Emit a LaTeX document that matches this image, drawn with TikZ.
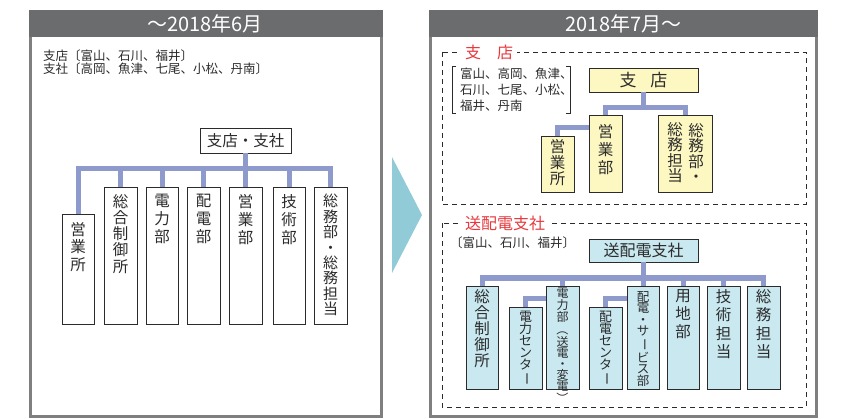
\documentclass[tikz,border=0pt]{standalone}
\usepackage{fontspec}
\setmainfont{Noto Sans CJK JP}
\definecolor{hdrgray}{HTML}{6B6C6E}
\definecolor{bordgray}{HTML}{7F7F7F}
\definecolor{conncol}{HTML}{8E9ACC}
\definecolor{yelfill}{HTML}{FDF7C2}
\definecolor{bluefill}{HTML}{C9E8F0}
\definecolor{arrowcol}{HTML}{92CBD8}
\definecolor{redtxt}{HTML}{E8383D}
\definecolor{inkcol}{HTML}{2B2B2B}
\newcommand{\vbar}{\rotatebox[origin=c]{-90}{ー}}
\newcommand{\vlp}{\rotatebox[origin=c]{-90}{（}}
\newcommand{\vrp}{\rotatebox[origin=c]{-90}{）}}
\tikzset{
  orgbox/.style={draw=inkcol, line width=0.8pt, inner sep=0pt, outer sep=0pt, anchor=north west},
  vt/.style={inner sep=0pt, align=center, text=inkcol, anchor=north},
  conn/.style={draw=conncol, line width=5pt, line join=miter},
  hdrtxt/.style={text=white, font=\fontsize{20}{20}\selectfont, inner sep=0pt},
  redlbl/.style={text=redtxt, fill=white, font=\fontsize{16}{16}\selectfont, inner xsep=4pt, inner ysep=1pt},
  dashbox/.style={draw=inkcol, line width=0.9pt, dash pattern=on 5pt off 4pt},
  plaintxt/.style={text=inkcol, inner sep=0pt, align=left}
}
\begin{document}
\begin{tikzpicture}[x=1pt,y=-1pt]
\useasboundingbox (0,0) rectangle (850,419);
% panels
\draw[bordgray, line width=3pt, fill=white] (30.5,11.5) rectangle (381.5,416.5);
\fill[hdrgray] (29,10) rectangle (383,37);
\draw[bordgray, line width=3pt, fill=white] (430.5,11.5) rectangle (816.5,416.5);
\fill[hdrgray] (429,10) rectangle (818,37);
\node[hdrtxt] (h1) at (205,23.5) {〜2018年6月};
\node[hdrtxt] (h2) at (623.5,23.5) {2018年7月〜};
% arrow
\fill[arrowcol] (392,157) -- (422,215) -- (392,273) -- cycle;

% ---------- left panel ----------
\node[plaintxt, anchor=north west, font=\fontsize{12.5}{11.6}\selectfont] (desc) at (43,50) {支店〔富山、石川、福井〕\\支社〔高岡、魚津、七尾、小松、丹南〕};
\node[orgbox, fill=white, minimum width=91pt, minimum height=25pt] (L0) at (200,128) {};
\node[text=inkcol, inner sep=0pt, font=\fontsize{15.5}{15.5}\selectfont] (tL0) at (L0.center) {支店・支社};
\node[orgbox, fill=white, minimum width=32pt, minimum height=110pt] (L1) at (62,214) {};
\node[orgbox, fill=white, minimum width=33pt, minimum height=137pt] (L2) at (104,187) {};
\node[orgbox, fill=white, minimum width=32pt, minimum height=137pt] (L3) at (146,187) {};
\node[orgbox, fill=white, minimum width=33pt, minimum height=137pt] (L4) at (187,187) {};
\node[orgbox, fill=white, minimum width=33pt, minimum height=137pt] (L5) at (229,187) {};
\node[orgbox, fill=white, minimum width=32pt, minimum height=137pt] (L6) at (273,187) {};
\node[orgbox, fill=white, minimum width=33pt, minimum height=137pt] (L7) at (314,187) {};
\node[vt, font=\fontsize{15.5}{17.7}\selectfont] (tL1) at ([yshift=-8pt]L1.north) {営\\業\\所};
\node[vt, font=\fontsize{15.5}{16.2}\selectfont] (tL2) at ([yshift=-7pt]L2.north) {総\\合\\制\\御\\所};
\node[vt, font=\fontsize{15.5}{18}\selectfont] (tL3) at ([yshift=-7pt]L3.north) {電\\力\\部};
\node[vt, font=\fontsize{15.5}{18}\selectfont] (tL4) at ([yshift=-7pt]L4.north) {配\\電\\部};
\node[vt, font=\fontsize{15.5}{18}\selectfont] (tL5) at ([yshift=-7pt]L5.north) {営\\業\\部};
\node[vt, font=\fontsize{15.5}{18}\selectfont] (tL6) at ([yshift=-7pt]L6.north) {技\\術\\部};
\node[vt, font=\fontsize{15}{15.4}\selectfont] (tL7) at ([yshift=-7pt]L7.north) {総\\務\\部\\・\\総\\務\\担\\当};
\coordinate (barL) at (0,169);
\draw[conn] (L1.north) -- (L1.north |- barL) -- (L7.north |- barL) -- (L7.north);
\draw[conn] (L0.south) -- (L0.south |- barL);
\foreach \c in {L2,L3,L4,L5,L6} \draw[conn] (\c.north) -- (\c.north |- barL);

% ---------- right panel: 支店 ----------
\draw[dashbox] (442,52) rectangle (806,204);
\node[redlbl] (lab1) at (489,52) {支\hspace{1em}店};
\draw[inkcol, line width=0.8pt] (456,66) -- (452,66) -- (452,113) -- (456,113);
\draw[inkcol, line width=0.8pt] (566,66) -- (570,66) -- (570,113) -- (566,113);
\node[plaintxt, anchor=north west, font=\fontsize{12.5}{16}\selectfont] (desc2) at (460,68) {富山、高岡、魚津、\\石川、七尾、小松、\\福井、丹南};
\node[orgbox, fill=yelfill, minimum width=109pt, minimum height=24pt] (S0) at (589,68) {};
\node[text=inkcol, inner sep=0pt, font=\fontsize{17}{17}\selectfont] (tS0) at (S0.center) {支\hspace{0.8em}店};
\node[orgbox, fill=yelfill, minimum width=33pt, minimum height=77pt] (S1) at (589,115) {};
\node[orgbox, fill=yelfill, minimum width=54pt, minimum height=77pt] (S2) at (658,115) {};
\node[orgbox, fill=yelfill, minimum width=33pt, minimum height=56pt] (S3) at (541,136) {};
\node[vt, font=\fontsize{15.5}{18}\selectfont] (tS1) at ([yshift=-9pt]S1.north) {営\\業\\部};
\node[vt, font=\fontsize{15.5}{15.5}\selectfont] (tS2a) at ([xshift=11pt,yshift=-8pt]S2.north) {総\\務\\部\\・};
\node[vt, font=\fontsize{15.5}{15.5}\selectfont] (tS2b) at ([xshift=-10pt,yshift=-7pt]S2.north) {総\\務\\担\\当};
\node[vt, font=\fontsize{15.5}{16}\selectfont] (tS3) at ([yshift=-3pt]S3.north) {営\\業\\所};
\coordinate (barS) at (0,108);
\draw[conn] (S1.north) -- (S1.north |- barS) -- (S2.north |- barS) -- (S2.north);
\draw[conn] (S0.south) -- (S0.south |- barS);
\coordinate (sideS) at (0,128);
\draw[conn] (S1.west |- sideS) -| (S3.north);

% ---------- right panel: 送配電支社 ----------
\draw[dashbox] (442,223) rectangle (806,407);
\node[redlbl] (lab2) at (505,223) {送配電支社};
\node[plaintxt, anchor=west, font=\fontsize{12.5}{12.5}\selectfont] (desc3) at (450,243) {〔富山、石川、福井〕};
\node[orgbox, fill=bluefill, minimum width=109pt, minimum height=23pt] (B0) at (589,239) {};
\node[text=inkcol, inner sep=0pt, font=\fontsize{16}{16}\selectfont] (tB0) at (B0.center) {送配電支社};
\node[orgbox, fill=bluefill, minimum width=32pt, minimum height=103pt] (B1) at (466,286) {};
\node[orgbox, fill=bluefill, minimum width=33pt, minimum height=82pt] (B2) at (509,307) {};
\node[orgbox, fill=bluefill, minimum width=33pt, minimum height=103pt] (B3) at (546,286) {};
\node[orgbox, fill=bluefill, minimum width=33pt, minimum height=82pt] (B4) at (589,307) {};
\node[orgbox, fill=bluefill, minimum width=32pt, minimum height=103pt] (B5) at (627,286) {};
\node[orgbox, fill=bluefill, minimum width=32pt, minimum height=103pt] (B6) at (667,286) {};
\node[orgbox, fill=bluefill, minimum width=33pt, minimum height=103pt] (B7) at (707,286) {};
\node[orgbox, fill=bluefill, minimum width=33pt, minimum height=103pt] (B8) at (747,286) {};
\node[vt, font=\fontsize{15.5}{16}\selectfont] (tB1) at ([yshift=-3pt]B1.north) {総\\合\\制\\御\\所};
\node[vt, font=\fontsize{13}{12}\selectfont] (tB2) at ([yshift=-4pt]B2.north) {電\\力\\セ\\ン\\タ\\\vbar};
\node[vt, font=\fontsize{12}{10.9}\selectfont] (tB3) at ([yshift=-2pt]B3.north) {電\\力\\部\\\vlp\\送\\電\\・\\変\\電\\\vrp};
\node[vt, font=\fontsize{13}{12}\selectfont] (tB4) at ([yshift=-4pt]B4.north) {配\\電\\セ\\ン\\タ\\\vbar};
\node[vt, font=\fontsize{12.5}{11.5}\selectfont] (tB5) at ([yshift=-5pt]B5.north) {配\\電\\・\\サ\\\vbar\\ビ\\ス\\部};
\node[vt, font=\fontsize{15.5}{18}\selectfont] (tB6) at ([yshift=-3pt]B6.north) {用\\地\\部};
\node[vt, font=\fontsize{15.5}{18.5}\selectfont] (tB7) at ([yshift=-3pt]B7.north) {技\\術\\担\\当};
\node[vt, font=\fontsize{15.5}{18.5}\selectfont] (tB8) at ([yshift=-3pt]B8.north) {総\\務\\担\\当};
\coordinate (barB) at (0,278);
\draw[conn] (B1.north) -- (B1.north |- barB) -- (B8.north |- barB) -- (B8.north);
\draw[conn] (B0.south) -- (B0.south |- barB);
\foreach \c in {B3,B5,B6,B7} \draw[conn] (\c.north) -- (\c.north |- barB);
\coordinate (sideB) at (0,298);
\draw[conn] (B3.west |- sideB) -| (B2.north);
\draw[conn] (B5.west |- sideB) -| (B4.north);
\end{tikzpicture}
\end{document}
